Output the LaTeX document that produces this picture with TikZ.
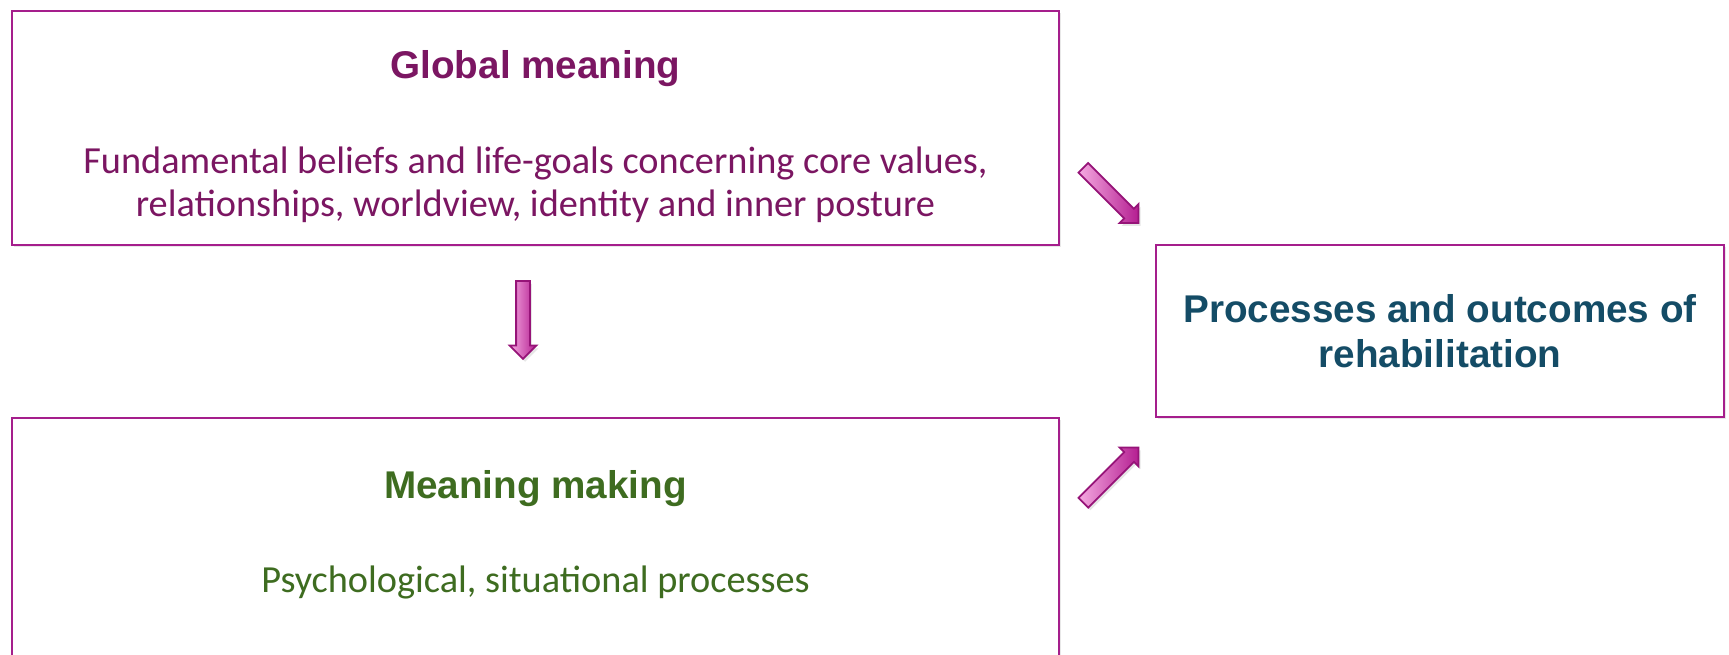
\documentclass[tikz,border=0pt]{standalone}
\usepackage{fontspec}
\setmainfont{Carlito}
\newfontfamily\headfont{Liberation Sans}
\usetikzlibrary{positioning,shapes.arrows,shadows}
\definecolor{boxline}{RGB}{165,30,140}
\definecolor{gmpurple}{RGB}{123,22,98}
\definecolor{mmgreen}{RGB}{62,108,32}
\definecolor{rehabblue}{RGB}{20,76,102}
\definecolor{arrowlight}{RGB}{245,170,225}
\definecolor{arrowdark}{RGB}{180,30,145}
\definecolor{arrowline}{RGB}{150,20,120}

\begin{document}
\begin{tikzpicture}[
  box/.style={rectangle,draw=boxline,line width=0.7pt,fill=white,inner sep=0pt,
    drop shadow={shadow xshift=0.5pt,shadow yshift=-0.7pt,opacity=0.18}},
  headtext/.style={font=\headfont\bfseries\fontsize{11}{12.8}\selectfont,align=center},
  bodytext/.style={font=\fontsize{10.9}{12.3}\selectfont,align=center},
  blockarrow/.style={single arrow,draw=arrowline,line width=0.5pt,inner sep=0pt,
    text height=0.06cm,text depth=0.06cm,left color=arrowlight,right color=arrowdark,
    minimum height=0.78cm,single arrow head extend=0.065cm,
    drop shadow={opacity=0.2,shadow xshift=0.6pt,shadow yshift=-0.8pt}}]
\clip (0,0) rectangle (17.29,-6.54);
% the three boxes
\node[box,minimum width=10.47cm,minimum height=2.34cm] (gm) at (5.355,-1.28) {};
\node[box,minimum width=10.47cm,minimum height=3.0cm] (mm) at (5.355,-5.68) {};
\node[box,minimum width=5.68cm,minimum height=1.72cm] (rehab) at (14.40,-3.31) {};
% texts
\node[headtext,text=gmpurple,below=0.59cm of gm.north,anchor=center] (gmtitle) {Global meaning};
\node[bodytext,text=gmpurple,below=1.75cm of gm.north,anchor=center] (gmbody)
  {Fundamental beliefs and life-goals concerning core values,\\relationships, worldview, identity and inner posture};
\node[headtext,text=mmgreen,below=0.715cm of mm.north,anchor=center] (mmtitle) {Meaning making};
\node[bodytext,text=mmgreen,below=1.655cm of mm.north,anchor=center] (mmbody) {Psychological, situational processes};
\node[headtext,text=rehabblue] (rehabtext) at (rehab) {Processes and outcomes of\\rehabilitation};
% block arrows
\node[blockarrow,rotate=-90] (a1) at (5.23,-3.165) {};
\node[blockarrow,rotate=-45] (a2) at (11.085,-1.93) {};
\node[blockarrow,rotate=45] (a3) at (11.085,-4.775) {};
\end{tikzpicture}
\end{document}
